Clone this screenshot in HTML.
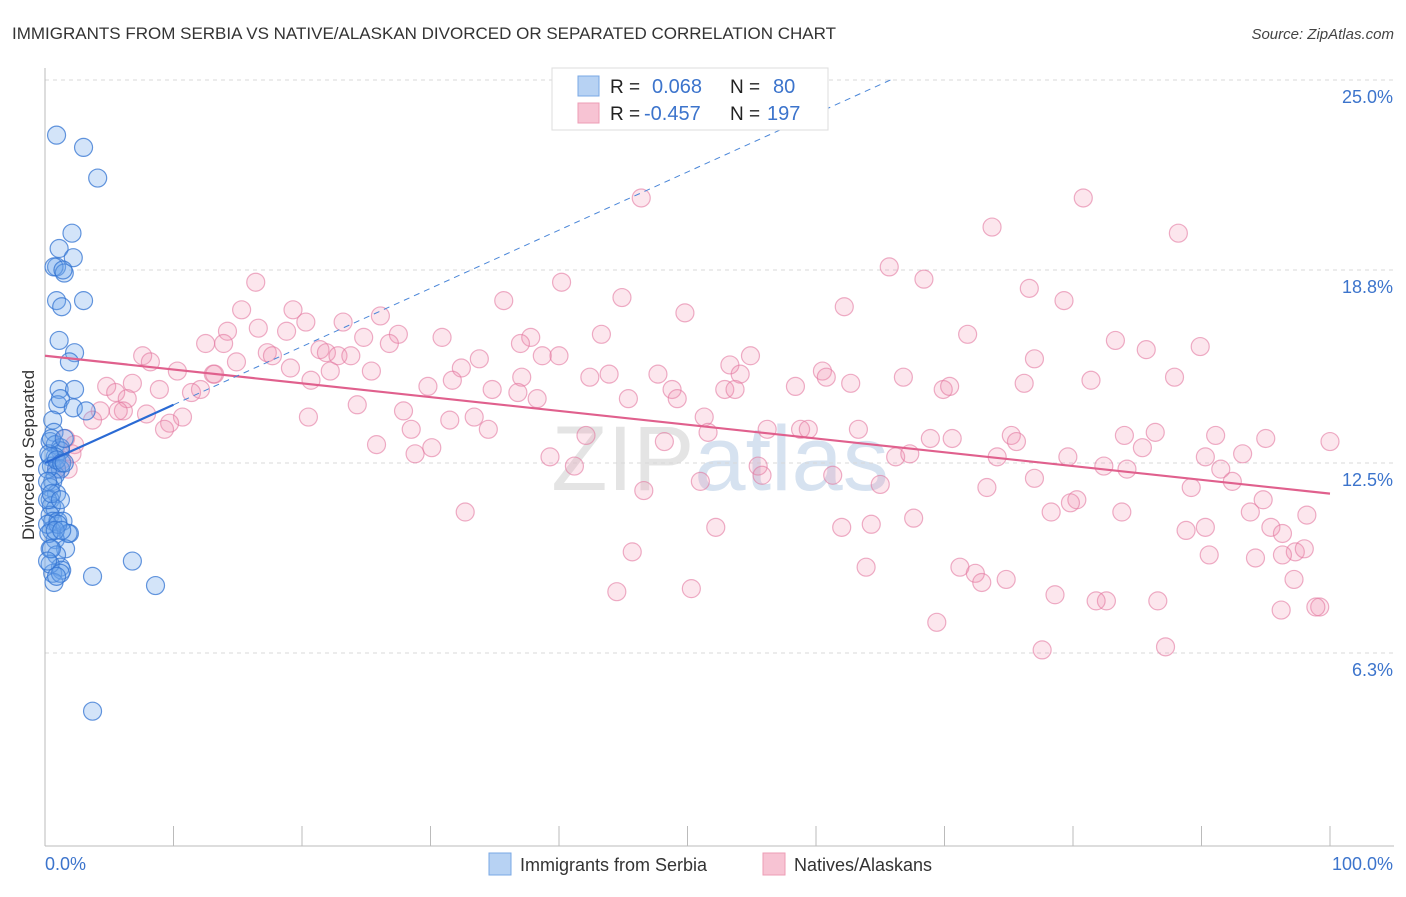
<!DOCTYPE html>
<html><head><meta charset="utf-8"><style>
body{margin:0;background:#fff;}
svg text{font-family:"Liberation Sans",sans-serif;}
</style></head><body>
<svg width="1406" height="892" xmlns="http://www.w3.org/2000/svg">
<text x="12" y="39" font-size="17" fill="#333">IMMIGRANTS FROM SERBIA VS NATIVE/ALASKAN DIVORCED OR SEPARATED CORRELATION CHART</text>
<text x="1394" y="39" font-size="15" fill="#444" font-style="italic" text-anchor="end">Source: ZipAtlas.com</text>
<text x="720" y="490" font-size="92" fill="#e4e4e4" text-anchor="middle" font-family="Liberation Serif">ZIP<tspan fill="#d6e2f0" font-family="Liberation Sans">atlas</tspan></text>
<g id="grid"></g>
<g id="axes"></g>
<g id="pink"></g>
<g id="blue"></g>
<g id="trends"></g>
<text transform="translate(34,455) rotate(-90)" font-size="17" fill="#333" text-anchor="middle">Divorced or Separated</text>
<g>
<rect x="552" y="68" width="276" height="62" fill="#fff" stroke="#ddd"/>
<rect x="578" y="76" width="21" height="20" fill="#b7d2f3" stroke="#7aa8e4"/>
<rect x="578" y="103" width="21" height="20" fill="#f7c3d3" stroke="#ee9cb6"/>
<text x="610" y="93" font-size="19" fill="#222">R = </text><text x="652" y="93" font-size="20" fill="#3c74cc">0.068</text>
<text x="730" y="93" font-size="19" fill="#222">N = </text><text x="773" y="93" font-size="20" fill="#3c74cc">80</text>
<text x="610" y="120" font-size="19" fill="#222">R = </text><text x="644" y="120" font-size="20" fill="#3c74cc">-0.457</text>
<text x="730" y="120" font-size="19" fill="#222">N = </text><text x="767" y="120" font-size="20" fill="#3c74cc">197</text>
</g>
<g>
<rect x="489" y="853" width="22" height="22" fill="#b7d2f3" stroke="#7aa8e4"/>
<text x="520" y="871" font-size="18" fill="#333">Immigrants from Serbia</text>
<rect x="763" y="853" width="22" height="22" fill="#f7c3d3" stroke="#ee9cb6"/>
<text x="794" y="871" font-size="18" fill="#333">Natives/Alaskans</text>
</g>
</svg>
<script>
const yTicks=[25.0,18.8,12.5,6.3];
const yTickLabels=["25.0%","18.8%","12.5%","6.3%"];
const xLabels=["0.0%","100.0%"];
const serbiaX=[0.9,3.0,4.1,2.1,1.1,2.2,0.9,0.7,1.5,1.4,0.9,1.3,3.0,1.1,2.3,1.9,1.1,2.3,1.0,1.2,2.2,3.2,0.6,0.7,0.4,0.8,1.2,1.2,0.8,0.4,0.5,0.9,1.2,0.8,0.6,0.4,0.9,0.4,0.5,0.8,0.4,0.6,1.0,1.4,1.9,1.8,0.5,0.8,1.6,0.4,0.9,1.2,0.6,1.3,0.4,0.7,3.7,6.8,8.6,3.7,0.2,0.3,0.2,0.2,0.2,0.3,0.5,0.9,1.3,1.5,1.0,0.8,1.3,0.5,0.2,1.2,0.9,1.5,0.5,1.2];
const serbiaY=[23.2,22.8,21.8,20.0,19.5,19.2,18.9,18.9,18.7,18.8,17.8,17.6,17.8,16.5,16.1,15.8,14.9,14.9,14.4,14.6,14.3,14.2,13.9,13.5,13.2,13.1,13.0,12.9,12.7,12.7,12.4,12.3,12.3,12.1,11.9,11.7,11.5,11.3,11.1,11.0,10.8,10.6,10.6,10.6,10.2,10.2,10.3,10.0,9.7,9.7,9.5,9.1,8.9,9.0,9.2,8.6,8.8,9.3,8.5,4.4,12.3,12.8,11.9,11.3,10.5,10.2,13.3,12.6,12.5,12.5,10.5,10.3,10.3,9.7,9.3,8.9,8.8,13.3,11.5,11.3];
const nativesX=[46.4,80.8,73.7,88.2,65.7,68.4,40.2,16.4,76.6,44.9,35.7,79.3,62.2,49.8,15.3,19.3,26.1,20.3,23.2,16.6,18.8,14.2,27.5,30.9,71.8,83.3,24.8,37.8,43.3,26.8,12.5,13.9,85.7,89.9,21.4,21.9,17.3,17.7,22.8,23.8,37.0,38.7,40.0,7.6,54.9,8.2,14.9,10.3,53.3,33.8,32.4,25.4,22.2,13.1,19.1,77.0,60.5,60.8,81.4,87.9,66.8,54.1,47.7,42.4,43.9,31.7,37.1,6.8,4.8,13.2,20.7,76.2,69.9,70.4,62.7,58.4,52.9,53.7,29.8,34.8,36.8,12.1,11.4,5.5,8.9,6.4,6.1,7.9,45.4,48.8,49.2,38.3,27.9,24.3,20.5,10.7,9.7,9.3,4.3,5.7,3.7,51.3,33.4,31.5,34.5,28.5,42.1,51.6,56.2,58.8,59.4,63.3,68.9,70.6,75.2,84.0,86.4,91.1,75.6,48.2,25.8,30.1,28.8,85.4,74.1,93.2,39.3,41.2,55.5,66.2,67.3,65.0,61.3,55.8,51.0,82.4,84.2,91.5,89.2,92.4,73.3,77.0,46.6,80.3,79.8,94.8,78.3,83.8,93.8,98.2,32.7,52.2,62.0,64.3,67.6,95.4,96.3,88.8,90.3,97.3,90.6,98.0,94.2,96.3,45.7,63.9,71.2,72.4,74.8,72.9,97.2,99.2,98.9,44.5,50.3,78.6,82.6,81.8,86.6,96.2,69.4,77.6,87.2,100,90.3,79.6,95.0,1.3,1.8,2.3,0.9,1.6,2.1];
const nativesY=[21.15,21.15,20.2,20.0,18.9,18.5,18.4,18.4,18.2,17.9,17.8,17.8,17.6,17.4,17.5,17.5,17.3,17.1,17.1,16.9,16.8,16.8,16.7,16.6,16.7,16.5,16.6,16.6,16.7,16.4,16.4,16.4,16.2,16.3,16.2,16.1,16.1,16.0,16.0,16.0,16.4,16.0,16.0,16.0,16.0,15.8,15.8,15.5,15.7,15.9,15.6,15.5,15.5,15.4,15.6,15.9,15.5,15.3,15.2,15.3,15.3,15.4,15.4,15.3,15.4,15.2,15.3,15.1,15.0,15.4,15.2,15.1,14.9,15.0,15.1,15.0,14.9,14.9,15.0,14.9,14.8,14.9,14.8,14.8,14.9,14.6,14.2,14.1,14.6,14.9,14.6,14.6,14.2,14.4,14.0,14.0,13.8,13.6,14.2,14.2,13.9,14.0,14.0,13.9,13.6,13.6,13.4,13.5,13.6,13.6,13.6,13.6,13.3,13.3,13.4,13.4,13.5,13.4,13.2,13.2,13.1,13.0,12.8,13.0,12.7,12.8,12.7,12.4,12.4,12.7,12.8,11.8,12.1,12.1,11.9,12.4,12.3,12.3,11.7,11.9,11.7,12.0,11.6,11.3,11.2,11.3,10.9,10.9,10.9,10.8,10.9,10.4,10.4,10.5,10.7,10.4,10.2,10.3,10.4,9.6,9.5,9.7,9.4,9.5,9.6,9.1,9.1,8.9,8.7,8.6,8.7,7.8,7.8,8.3,8.4,8.2,8.0,8.0,8.0,7.7,7.3,6.4,6.5,13.2,12.7,12.7,13.3,12.6,12.3,13.1,12.3,13.3,12.8];
const serbiaTrend=[12.5,0.19];
const nativesTrend=[16.0,-0.045];
const NS="http://www.w3.org/2000/svg";
const X0=45,X1=1330,YB=846,YT=80;
const sx=v=>X0+(X1-X0)*v/100;
const sy=v=>YB-(YB-YT)*v/25;
function mk(tag,attrs,parent){const e=document.createElementNS(NS,tag);for(const k in attrs)e.setAttribute(k,attrs[k]);document.getElementById(parent).appendChild(e);return e;}
yTicks.forEach((t,i)=>{
 const l=mk('line',{x1:X0,x2:1394,y1:sy(t),y2:sy(t),stroke:'#d8d8d8','stroke-dasharray':'4,4'},'grid');
 
 
 const tx=mk('text',{x:1393,y:sy(t)+23,'font-size':18,fill:'#3c74cc','text-anchor':'end'},'grid');
 tx.textContent=yTickLabels[i];
 
 
});
mk('line',{x1:X0,x2:X0,y1:68,y2:YB,stroke:'#bbb'},'axes');
mk('line',{x1:X0,x2:1394,y1:YB,y2:YB,stroke:'#bbb'},'axes');
for(let i=1;i<=10;i++){const t=mk('line',{x1:sx(i*10),x2:sx(i*10),y1:826,y2:YB,stroke:'#bbb'},'axes');
 
 }
const xl0=mk('text',{x:X0,y:870,'font-size':18,fill:'#3c74cc'},'axes');xl0.textContent=xLabels[0];


const xl1=mk('text',{x:1393,y:870,'font-size':18,fill:'#3c74cc','text-anchor':'end'},'axes');xl1.textContent=xLabels[1];


nativesX.forEach((v,i)=>{const c=mk('circle',{cx:sx(v),cy:sy(nativesY[i]),r:9,fill:'rgba(240,140,175,0.22)',stroke:'rgba(226,120,160,0.6)','stroke-width':1.2},'pink');
 
 });
serbiaX.forEach((v,i)=>{const c=mk('circle',{cx:sx(v),cy:sy(serbiaY[i]),r:9,fill:'rgba(110,165,235,0.3)',stroke:'rgba(50,115,210,0.75)','stroke-width':1.2},'blue');
 
 });
const pl=mk('line',{x1:sx(0),y1:sy(nativesTrend[0]),x2:sx(100),y2:sy(nativesTrend[0]+100*nativesTrend[1]),stroke:'#e0608d','stroke-width':2.2},'trends');


const xEnd=(25-serbiaTrend[0])/serbiaTrend[1];
const bd=mk('line',{x1:sx(10),y1:sy(serbiaTrend[0]+10*serbiaTrend[1]),x2:sx(xEnd),y2:sy(25),stroke:'#4a86d8','stroke-width':1,'stroke-dasharray':'6,5'},'trends');


const bl=mk('line',{x1:sx(0),y1:sy(serbiaTrend[0]),x2:sx(10),y2:sy(serbiaTrend[0]+10*serbiaTrend[1]),stroke:'#2a6ad4','stroke-width':2.2},'trends');


</script>
</body></html>
